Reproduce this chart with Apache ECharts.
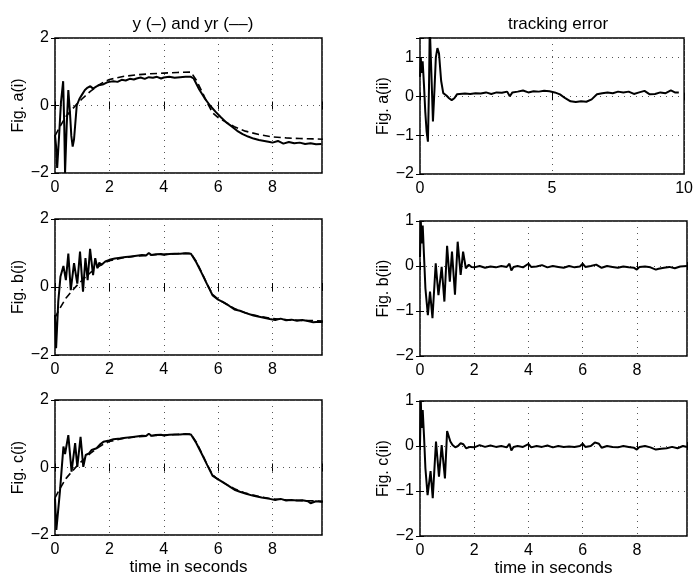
<!DOCTYPE html>
<html><head><meta charset="utf-8">
<script src="https://cdn.jsdelivr.net/npm/echarts@6/dist/echarts.min.js"></script>
<style>html,body{margin:0;padding:0;background:#fff}#c{width:696px;height:582px}</style>
</head><body><div id="c"></div>
<script>
// ---- data: [time (s), value] ----
const yrRef = [[0,-0.9],[0.2,-0.6],[0.4,-0.33],[0.6,-0.14],[0.8,0.04],[1.0,0.2],[1.3,0.42],[1.6,0.6],[1.8,0.7],[2.0,0.77],[2.5,0.86],[3.0,0.91],[3.5,0.94],[4.0,0.96],[4.5,0.98],[5.0,0.99],[5.2,0.75],[5.4,0.42],[5.6,0.08],[5.8,-0.22],[6.0,-0.36],[6.3,-0.5],[6.6,-0.63],[7.0,-0.76],[7.5,-0.86],[8.0,-0.93],[8.5,-0.96],[9.0,-0.98],[9.5,-0.99],[9.85,-1.0]];

const yA = [[0,-0.87],[0.04,-1.2],[0.08,-1.85],[0.15,-0.9],[0.22,0.1],[0.3,0.72],[0.34,-0.6],[0.37,-2.0],[0.43,-0.6],[0.49,0.46],[0.55,-0.2],[0.6,-0.9],[0.65,-1.22],[0.7,-1.0],[0.8,0.0],[0.9,0.2],[1.0,0.33],[1.1,0.46],[1.2,0.53],[1.3,0.57],[1.4,0.5],[1.5,0.55],[1.6,0.6],[1.75,0.62],[1.9,0.68],[2.0,0.7],[2.15,0.72],[2.3,0.7],[2.45,0.76],[2.6,0.74],[2.75,0.79],[2.9,0.77],[3.0,0.8],[3.15,0.83],[3.3,0.79],[3.45,0.84],[3.6,0.82],[3.75,0.85],[3.9,0.8],[4.0,0.83],[4.2,0.85],[4.4,0.82],[4.6,0.84],[4.8,0.85],[5.0,0.85],[5.1,0.8],[5.3,0.48],[5.5,0.22],[5.7,0.0],[5.9,-0.18],[6.1,-0.35],[6.3,-0.5],[6.5,-0.62],[6.7,-0.75],[6.9,-0.85],[7.1,-0.92],[7.3,-0.98],[7.5,-1.02],[7.7,-1.05],[7.9,-1.08],[8.0,-1.1],[8.2,-1.05],[8.4,-1.13],[8.6,-1.08],[8.8,-1.12],[9.0,-1.1],[9.2,-1.14],[9.4,-1.12],[9.6,-1.15],[9.8,-1.14]];

const eA = [[0,0.5],[0.03,1.0],[0.06,0.6],[0.1,0.9],[0.15,0.3],[0.2,-0.4],[0.25,-0.9],[0.3,-1.17],[0.34,0.2],[0.37,1.8],[0.4,1.8],[0.45,0.2],[0.49,-0.65],[0.55,0.2],[0.6,1.0],[0.66,1.24],[0.72,1.1],[0.8,0.4],[0.88,0.08],[1.0,0.02],[1.1,-0.05],[1.2,-0.1],[1.3,-0.05],[1.4,0.05],[1.5,0.06],[1.7,0.07],[1.9,0.06],[2.1,0.08],[2.3,0.07],[2.5,0.1],[2.7,0.06],[2.9,0.1],[3.1,0.09],[3.3,0.12],[3.4,0.0],[3.5,0.1],[3.7,0.12],[3.9,0.15],[4.1,0.1],[4.3,0.13],[4.5,0.12],[4.7,0.14],[4.9,0.13],[5.1,0.1],[5.3,0.05],[5.5,-0.05],[5.7,-0.13],[5.9,-0.15],[6.1,-0.13],[6.3,-0.14],[6.5,-0.08],[6.7,0.05],[6.9,0.08],[7.1,0.1],[7.3,0.08],[7.5,0.12],[7.7,0.1],[7.9,0.12],[8.1,0.06],[8.3,0.1],[8.5,0.14],[8.7,0.05],[8.9,0.06],[9.1,0.1],[9.3,0.08],[9.5,0.15],[9.65,0.1],[9.8,0.1]];

const yB = [[0,-0.82],[0.04,-1.8],[0.12,-0.43],[0.2,0.3],[0.31,0.62],[0.4,0.2],[0.49,0.98],[0.58,-0.09],[0.7,0.7],[0.82,0.1],[0.92,1.04],[1.03,-0.14],[1.12,0.85],[1.2,0.2],[1.29,1.12],[1.4,0.35],[1.48,0.85],[1.56,0.55],[1.63,0.72],[1.7,0.65],[1.85,0.75],[2.0,0.8],[2.2,0.84],[2.4,0.86],[2.6,0.88],[2.8,0.9],[3.0,0.92],[3.2,0.94],[3.35,0.93],[3.45,1.0],[3.55,0.94],[3.7,0.96],[3.9,0.97],[4.0,0.95],[4.2,0.97],[4.4,0.98],[4.6,0.98],[4.8,0.99],[5.0,0.98],[5.2,0.72],[5.4,0.4],[5.6,0.07],[5.8,-0.25],[6.0,-0.37],[6.2,-0.45],[6.4,-0.55],[6.6,-0.66],[6.8,-0.7],[7.0,-0.76],[7.3,-0.84],[7.6,-0.89],[7.9,-0.94],[8.1,-0.97],[8.3,-0.93],[8.5,-0.98],[8.7,-0.96],[8.9,-0.99],[9.1,-0.97],[9.3,-1.0],[9.5,-1.04],[9.7,-1.02],[9.85,-1.03]];

const eB = [[0,0.2],[0.03,1.0],[0.06,0.5],[0.1,0.9],[0.15,0.2],[0.2,-0.5],[0.29,-1.09],[0.37,-0.57],[0.46,-1.16],[0.58,0.06],[0.68,-0.65],[0.8,-0.02],[0.9,-0.79],[1.0,0.45],[1.1,-0.35],[1.18,0.32],[1.29,-0.64],[1.39,0.54],[1.5,-0.2],[1.59,0.32],[1.69,-0.05],[1.8,0.03],[1.9,-0.02],[2.0,-0.03],[2.2,0.0],[2.4,-0.04],[2.6,-0.01],[2.8,-0.03],[3.0,0.0],[3.2,-0.02],[3.3,0.05],[3.37,-0.1],[3.45,-0.02],[3.6,0.0],[3.8,-0.03],[4.0,0.05],[4.1,-0.02],[4.3,-0.01],[4.5,0.02],[4.7,-0.03],[4.9,0.0],[5.1,-0.02],[5.3,-0.04],[5.5,0.0],[5.7,-0.03],[5.9,-0.01],[6.0,0.05],[6.1,-0.02],[6.3,0.0],[6.5,0.03],[6.7,-0.04],[6.9,0.0],[7.1,-0.02],[7.3,-0.04],[7.5,-0.01],[7.7,-0.03],[7.9,-0.04],[8.0,-0.08],[8.1,-0.02],[8.3,-0.01],[8.5,-0.03],[8.7,-0.08],[8.8,-0.06],[9.0,-0.04],[9.2,-0.02],[9.4,-0.05],[9.6,-0.01],[9.85,0.0]];

const yC = [[0,-0.91],[0.05,-1.85],[0.18,-0.72],[0.31,0.62],[0.37,0.4],[0.49,0.96],[0.61,-0.12],[0.74,0.72],[0.82,0.02],[0.94,0.91],[1.04,0.02],[1.13,0.37],[1.25,0.42],[1.35,0.52],[1.53,0.57],[1.65,0.68],[1.78,0.76],[2.0,0.8],[2.15,0.84],[2.4,0.86],[2.6,0.88],[2.8,0.9],[3.0,0.92],[3.2,0.94],[3.35,0.93],[3.45,1.0],[3.55,0.94],[3.7,0.96],[3.9,0.97],[4.0,0.95],[4.2,0.97],[4.4,0.98],[4.6,0.98],[4.8,0.99],[5.0,0.98],[5.2,0.72],[5.4,0.4],[5.6,0.07],[5.8,-0.25],[6.0,-0.35],[6.2,-0.45],[6.4,-0.55],[6.6,-0.66],[6.8,-0.72],[7.0,-0.77],[7.3,-0.84],[7.6,-0.89],[7.9,-0.93],[8.1,-0.96],[8.3,-0.93],[8.5,-0.98],[8.7,-0.96],[8.9,-0.98],[9.1,-0.97],[9.3,-1.0],[9.4,-1.06],[9.6,-1.0],[9.85,-1.02]];

const eC = [[0,0.0],[0.03,1.0],[0.06,0.4],[0.1,0.8],[0.15,0.2],[0.2,-0.5],[0.28,-1.09],[0.39,-0.56],[0.47,-1.16],[0.59,0.1],[0.7,-0.68],[0.8,0.02],[0.92,-0.72],[1.0,0.33],[1.12,0.1],[1.2,0.02],[1.3,-0.03],[1.4,0.0],[1.5,0.06],[1.6,0.04],[1.7,-0.05],[1.85,-0.02],[2.0,-0.03],[2.2,0.02],[2.4,-0.02],[2.6,0.01],[2.8,-0.02],[3.0,0.0],[3.2,-0.03],[3.3,0.05],[3.37,-0.1],[3.45,-0.02],[3.6,0.0],[3.8,-0.02],[4.0,0.04],[4.1,-0.03],[4.3,0.0],[4.5,-0.02],[4.7,0.01],[4.9,-0.03],[5.1,0.0],[5.3,-0.02],[5.5,-0.01],[5.7,-0.02],[5.9,0.0],[6.0,0.05],[6.1,-0.02],[6.3,0.0],[6.45,0.08],[6.6,0.05],[6.7,-0.04],[6.9,0.0],[7.1,-0.02],[7.3,-0.03],[7.5,0.0],[7.7,-0.02],[7.9,-0.04],[8.0,-0.08],[8.1,-0.02],[8.3,0.0],[8.5,-0.03],[8.7,-0.08],[8.9,-0.06],[9.1,-0.05],[9.3,-0.02],[9.5,-0.05],[9.7,0.0],[9.85,-0.02]];

const panelNames = ['Fig. a(i)','Fig. a(ii)','Fig. b(i)','Fig. b(ii)','Fig. c(i)','Fig. c(ii)'];
const titleTexts = ['y (–) and yr (––)','tracking error'];
const xName = 'time in seconds';

// ---- layout ----
const FONT = 'Liberation Sans, Arial, sans-serif';
const grids = [
  {left:55, top:38, width:267, height:135},
  {left:420, top:38, width:267, height:136},
  {left:55, top:219, width:267, height:136},
  {left:420, top:221, width:267, height:135},
  {left:55, top:400, width:267, height:135},
  {left:420, top:401, width:267, height:135}
];
const xCfg = [
  {max:9.82, interval:2}, {max:10, interval:5},
  {max:9.82, interval:2}, {max:9.85, interval:2},
  {max:9.82, interval:2}, {max:9.85, interval:2}
];
const yCfg = [
  {min:-2,max:2,interval:2},{min:-2,max:1.5,interval:1},
  {min:-2,max:2,interval:2},{min:-2,max:1,interval:1},
  {min:-2,max:2,interval:2},{min:-2,max:1,interval:1}
];
const fmtNum = v => {
  if (Math.abs(v - Math.round(v)) > 1e-6) return '';
  const r = Math.round(v);
  return r < 0 ? '\u2212' + (-r) : String(r);
};
const fmtX = (iv) => v => {
  if (Math.abs(v/iv - Math.round(v/iv)) > 1e-6) return '';
  return String(Math.round(v));
};

const split = {show:true, lineStyle:{color:'#555', type:[1,5], width:1}};
const xAxes = [], yAxes = [], series = [];
grids.forEach((g, i) => {
  const xc = xCfg[i], yc = yCfg[i];
  xAxes.push({
    type:'value', gridIndex:i, min:0, max:xc.max, interval:xc.interval, position:'bottom',
    axisLine:{show:false}, axisTick:{show:true, inside:true, length:4, lineStyle:{color:'#000', width:1}},
    splitLine:split,
    axisLabel:{color:'#000', fontFamily:FONT, fontSize:16, margin:7, formatter:fmtX(xc.interval), showMaxLabel:true},
    name: (i >= 4) ? xName : '', nameLocation:'middle', nameGap:24,
    nameTextStyle:{color:'#000', fontFamily:FONT, fontSize:17}
  });
  xAxes.push({
    type:'value', gridIndex:i, min:0, max:xc.max, interval:xc.interval, position:'top',
    axisLine:{show:false}, axisTick:{show:true, inside:true, length:4, lineStyle:{color:'#000', width:1}},
    splitLine:{show:false}, axisLabel:{show:false}
  });
  yAxes.push({
    type:'value', gridIndex:i, min:yc.min, max:yc.max, interval:yc.interval, position:'left',
    axisLine:{show:false}, axisTick:{show:true, inside:true, length:4, lineStyle:{color:'#000', width:1}},
    splitLine:split,
    axisLabel:{color:'#000', fontFamily:FONT, fontSize:16, margin:6, formatter:fmtNum},
    name: panelNames[i], nameLocation:'middle', nameGap:28,
    nameTextStyle:{color:'#000', fontFamily:FONT, fontSize:16}
  });
  yAxes.push({
    type:'value', gridIndex:i, min:yc.min, max:yc.max, interval:yc.interval, position:'right',
    axisLine:{show:false}, axisTick:{show:true, inside:true, length:4, lineStyle:{color:'#000', width:1}},
    splitLine:{show:false}, axisLabel:{show:false}
  });
});

const solid = (data, i) => ({
  type:'line', xAxisIndex:2*i, yAxisIndex:2*i, data, showSymbol:false, symbol:'none',
  lineStyle:{color:'#000', width:2}, clip:true, silent:true, z:3
});
const dashed = (data, i) => ({
  type:'line', xAxisIndex:2*i, yAxisIndex:2*i, data, showSymbol:false, symbol:'none',
  lineStyle:{color:'#000', width:1.6, type:[7,4]}, clip:true, silent:true, z:2
});
series.push(dashed(yrRef,0), solid(yA,0), solid(eA,1),
            dashed(yrRef,2), solid(yB,2), solid(eB,3),
            dashed(yrRef,4), solid(yC,4), solid(eC,5));

const chart = echarts.init(document.getElementById('c'), null, {renderer:'canvas'});
chart.setOption({
  animation:false,
  backgroundColor:'#fff',
  title:[
    {text:titleTexts[0], left:188, top:11, textAlign:'center', textStyle:{color:'#000', fontFamily:FONT, fontSize:17, fontWeight:'normal'}},
    {text:titleTexts[1], left:553, top:11, textAlign:'center', textStyle:{color:'#000', fontFamily:FONT, fontSize:17, fontWeight:'normal'}}
  ],
  grid: grids.map(g => Object.assign({show:true, borderColor:'#000', borderWidth:1.5, backgroundColor:'transparent', containLabel:false}, g)),
  xAxis:xAxes, yAxis:yAxes, series
});
</script></body></html>
